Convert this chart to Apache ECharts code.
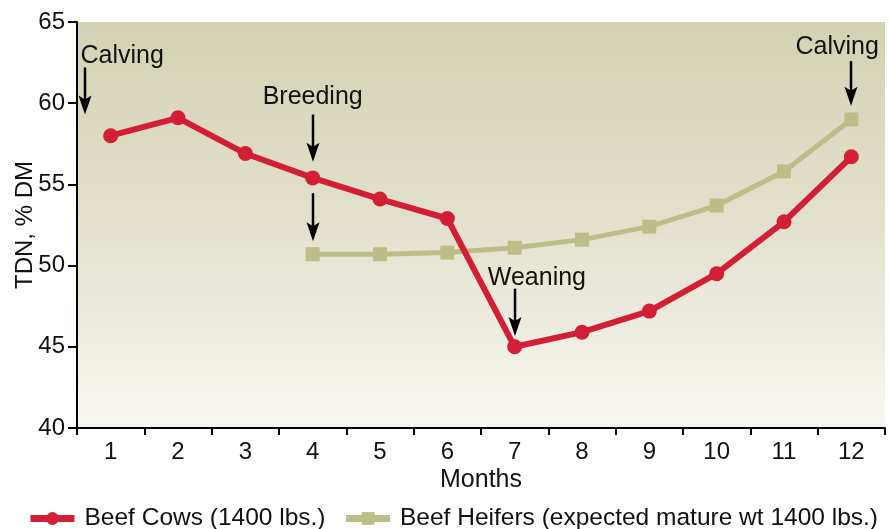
<!DOCTYPE html>
<html>
<head>
    <meta charset="utf-8">
    <title>TDN requirements</title>
    <script src="https://cdn.jsdelivr.net/npm/echarts@6/dist/echarts.min.js"></script>
</head>
<body style="margin:0;background:#fff">
    <div id="main" style="width: 890px;height:529px;"></div>
    <script type="text/javascript">
    var months = ['1', '2', '3', '4', '5', '6', '7', '8', '9', '10', '11', '12'];
    var beefCows = [58.0, 59.1, 56.9, 55.4, 54.1, 52.9, 45.0, 45.9, 47.2, 49.5, 52.7, 56.7];
    var beefHeifers = [null, null, null, 50.7, 50.7, 50.8, 51.1, 51.6, 52.4, 53.7, 55.8, 59.0];

    // notes: label position and arrows, in data units (x = month index)
    var notes = [
        { text: 'Calving',  tx: 0.17,  ty: 62.88, ax: -0.38, from: 62.2,  to: 59.3 },
        { text: 'Breeding', tx: 3.0,   ty: 60.4,  ax: 3.0,   from: 59.3,  to: 56.4 },
        { text: '',         tx: 3.0,   ty: 0,     ax: 3.0,   from: 54.46, to: 51.5 },
        { text: 'Weaning',  tx: 6.33,  ty: 49.26, ax: 6.0,   from: 48.58, to: 45.67 },
        { text: 'Calving',  tx: 10.79, ty: 63.43, ax: 11.0,  from: 62.59, to: 59.85 }
    ];

    var font = 'Liberation Sans';
    var ink = '#111';
    var myChart = echarts.init(document.getElementById('main'));

    var option = {
        animation: false,
        textStyle: { fontFamily: font, color: ink },
        grid: {
            left: 77, right: 5, top: 22, bottom: 101,
            show: true,
            borderWidth: 0,
            backgroundColor: new echarts.graphic.LinearGradient(0, 0, 0, 1, [
                { offset: 0, color: '#d3d2b3' },
                { offset: 0.5, color: '#e3e1cd' },
                { offset: 1, color: '#f8f7f2' }
            ])
        },
        legend: {
            left: 22,
            bottom: -7,
            width: 880,
            itemWidth: 44,
            itemHeight: 16,
            itemGap: 17,
            lineStyle: { width: 7 },
            textStyle: { fontFamily: font, fontSize: 24.5, color: ink, padding: [0, 0, 0, 5] },
            data: ['Beef Cows (1400 lbs.)', 'Beef Heifers (expected mature wt 1400 lbs.)']
        },
        xAxis: {
            type: 'category',
            data: months,
            boundaryGap: true,
            name: 'Months',
            nameLocation: 'middle',
            nameGap: 40,
            nameMoveOverlap: false,
            nameTextStyle: { fontFamily: font, fontSize: 25, color: ink },
            axisLine: { lineStyle: { color: '#000', width: 2 } },
            axisTick: { show: true, length: 7, lineStyle: { color: '#000', width: 2 } },
            axisLabel: { fontFamily: font, fontSize: 24, color: ink, margin: 12 },
            splitLine: { show: false }
        },
        yAxis: {
            type: 'value',
            min: 40,
            max: 65,
            interval: 5,
            name: 'TDN, % DM',
            nameLocation: 'middle',
            nameGap: 40,
            nameMoveOverlap: false,
            nameRotate: 90,
            nameTextStyle: { fontFamily: font, fontSize: 24, color: ink },
            axisLine: { show: true, lineStyle: { color: '#000', width: 2 } },
            axisTick: { show: true, length: 9, lineStyle: { color: '#000', width: 2 } },
            axisLabel: { fontFamily: font, fontSize: 24, color: ink, margin: 12 },
            splitLine: { show: false }
        },
        series: [
            {
                name: 'Beef Cows (1400 lbs.)',
                type: 'line',
                data: beefCows,
                symbol: 'circle',
                symbolSize: 15,
                z: 3,
                lineStyle: { color: '#d21f35', width: 6 },
                itemStyle: { color: '#d21f35' }
            },
            {
                name: 'Beef Heifers (expected mature wt 1400 lbs.)',
                type: 'line',
                data: beefHeifers,
                symbol: 'rect',
                symbolSize: 14,
                z: 2,
                lineStyle: { color: '#bdbd8a', width: 5 },
                itemStyle: { color: '#bdbd8a' }
            }
        ]
    };
    myChart.setOption(option);

    // category axis rounds fractional indices, so step between months by hand
    function toPx(xv, yv) {
        var p0 = myChart.convertToPixel({ gridIndex: 0 }, [0, yv]);
        var p1 = myChart.convertToPixel({ gridIndex: 0 }, [1, yv]);
        return [p0[0] + xv * (p1[0] - p0[0]), p0[1]];
    }

    var graphics = [];
    notes.forEach(function (n) {
        var a = toPx(n.ax, n.from);
        var b = toPx(n.ax, n.to);
        var x = Math.round(a[0]);
        graphics.push({
            type: 'line',
            shape: { x1: x, y1: a[1], x2: x, y2: b[1] - 10 },
            style: { stroke: '#000', lineWidth: 2.5 },
            z: 10
        });
        graphics.push({
            type: 'polygon',
            shape: { points: [[x, b[1]], [x - 6.5, b[1] - 19], [x, b[1] - 15], [x + 6.5, b[1] - 19]] },
            style: { fill: '#000' },
            z: 10
        });
        if (n.text) {
            var t = toPx(n.tx, n.ty);
            graphics.push({
                type: 'text',
                x: t[0],
                y: t[1],
                style: {
                    text: n.text,
                    fontFamily: font,
                    fontSize: 25,
                    fill: ink,
                    align: 'center',
                    verticalAlign: 'middle'
                },
                z: 10
            });
        }
    });
    myChart.setOption({ graphic: graphics });
    </script>
</body>
</html>
